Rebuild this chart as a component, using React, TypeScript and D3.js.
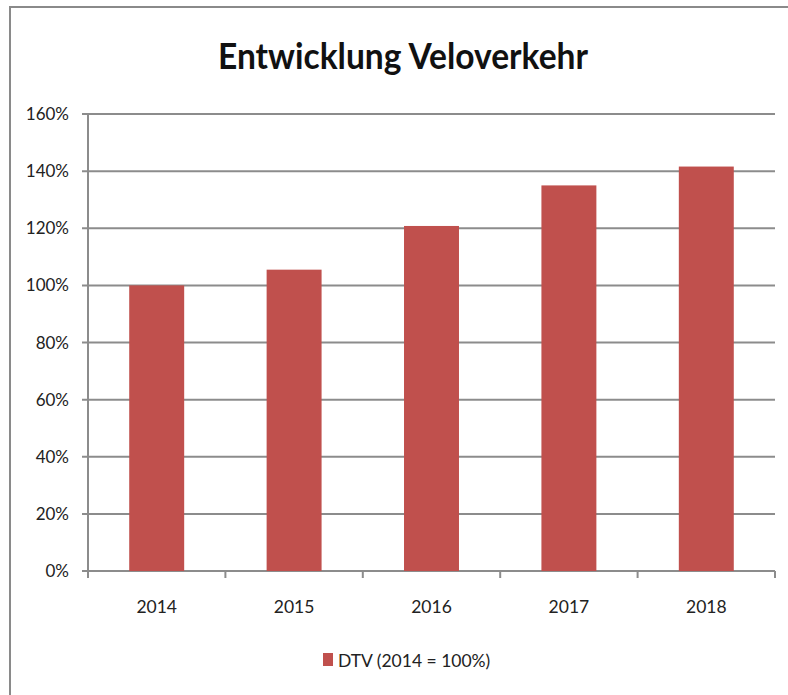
import React from "react";
import * as d3 from "d3";

const years = ["2014", "2015", "2016", "2017", "2018"];
const values = [100, 105.5, 120.8, 135, 141.6];
const yTicks = [0, 20, 40, 60, 80, 100, 120, 140, 160];
const title = "Entwicklung Veloverkehr";
const legendLabel = "DTV (2014 = 100%)";

const W = 788;
const H = 695;
const m = { left: 88, right: 775, top: 114, bottom: 571 };
const FONT = "Lato, 'Open Sans', sans-serif";
const BAR = "#C0504D";
const GRID = "#8c8c8c";

export default function App() {
  const x = d3.scaleBand<string>().domain(years).range([m.left, m.right]).paddingInner(0.6).paddingOuter(0.3);
  const xc = d3.scaleBand<string>().domain(years).range([m.left, m.right]);
  const y = d3.scaleLinear().domain([0, 160]).range([m.bottom, m.top]);
  const boundaries = d3.range(years.length + 1).map((i) => m.left + i * xc.step());

  return (
    <svg width={W} height={H} style={{ position: "absolute", left: 0, top: 0, background: "#fff" }}>
      <rect x={0} y={0} width={W} height={H} fill="#fff" />
      <line x1={10} x2={10} y1={7} y2={H} stroke="#8a8a8a" strokeWidth={2} />
      <line x1={9} x2={W} y1={7} y2={7} stroke="#8a8a8a" strokeWidth={2} />
      <text x={403} y={69} textAnchor="middle" fontFamily={FONT} fontWeight={700} fontSize={37} fill="#111"
        textLength={370} lengthAdjust="spacingAndGlyphs">
        {title}
      </text>
      {yTicks.map((t) => (
        <g key={t}>
          <line x1={m.left - 6} x2={m.right} y1={y(t)} y2={y(t)} stroke={GRID} strokeWidth={2} />
          <text x={69} y={y(t) + 6} textAnchor="end" fontFamily={FONT} fontSize={17} fill="#222">
            {t}%
          </text>
        </g>
      ))}
      <line x1={m.left} x2={m.left} y1={m.top} y2={m.bottom} stroke={GRID} strokeWidth={2} />
      {boundaries.map((b, i) => (
        <line key={i} x1={b} x2={b} y1={m.bottom} y2={m.bottom + 7} stroke={GRID} strokeWidth={2} />
      ))}
      {years.map((yr, i) => (
        <g key={yr}>
          <rect x={x(yr)} y={y(values[i])} width={x.bandwidth()} height={m.bottom - y(values[i])} fill={BAR} />
          <text x={(xc(yr) as number) + xc.bandwidth() / 2} y={613} textAnchor="middle" fontFamily={FONT} fontSize={17.5} fill="#222">
            {yr}
          </text>
        </g>
      ))}
      <rect x={323} y={653} width={10} height={13} fill={BAR} />
      <text x={338} y={667} fontFamily={FONT} fontSize={17.5} fill="#222">
        {legendLabel}
      </text>
    </svg>
  );
}
